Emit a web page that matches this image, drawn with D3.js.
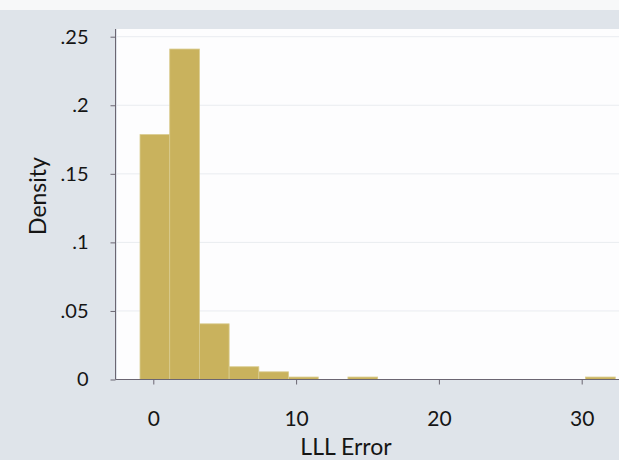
<!DOCTYPE html>
<html><head><meta charset="utf-8">
<script src="https://cdn.jsdelivr.net/npm/d3@7"></script>
<style>html,body{margin:0;padding:0;background:#fff;}svg{display:block;}</style>
</head><body>
<script>
// Data
const binStart = -0.93;          // left edge of first bin (LLL Error units)
const binWidth = 2.08;           // bin width
const densities = [0.1786, 0.241, 0.0406, 0.0093, 0.0056, 0.0018, 0, 0.0018, 0, 0, 0, 0, 0, 0, 0, 0.0018];
const xTicks = [0, 10, 20, 30];
const yTicks = [0, 0.05, 0.1, 0.15, 0.2, 0.25];
const yTickLabels = ["0", ".05", ".1", ".15", ".2", ".25"];
const xTitle = "LLL Error";
const yTitle = "Density";

const W = 619, H = 460;
const FONT = "Lato, 'Open Sans', sans-serif";
const TXT = "#151515";
const svg = d3.select("body").append("svg").attr("width", W).attr("height", H);

// backgrounds
svg.append("rect").attr("x",0).attr("y",0).attr("width",W).attr("height",H).attr("fill","#dfe4ea");
svg.append("rect").attr("x",0).attr("y",0).attr("width",W).attr("height",10).attr("fill","#f7f8f9");
const plotL = 117, plotT = 29, plotR = W, plotB = 379.5;
svg.append("rect").attr("x",plotL).attr("y",plotT).attr("width",plotR-plotL).attr("height",plotB-plotT).attr("fill","#fdfdfe");

const x = d3.scaleLinear().domain([0, 30]).range([153.3, 581.7]);
const y = d3.scaleLinear().domain([0, 0.25]).range([plotB, 36.7]);

// gridlines
svg.append("g").selectAll("line").data(yTicks.filter(d => d > 0)).join("line")
  .attr("x1", plotL).attr("x2", plotR)
  .attr("y1", d => y(d)).attr("y2", d => y(d))
  .attr("stroke", "#e9ecf0").attr("stroke-width", 1);

// bars
const bins = densities.map((d, i) => ({x0: binStart + i*binWidth, x1: binStart + (i+1)*binWidth, d}));
svg.append("g").selectAll("rect").data(bins.filter(b => b.d > 0)).join("rect")
  .attr("x", b => x(b.x0)).attr("width", b => x(b.x1) - x(b.x0))
  .attr("y", b => y(b.d)).attr("height", b => y(0) - y(b.d))
  .attr("fill", "#c9b25d").attr("stroke", "#d9cb8e").attr("stroke-width", 0.8);

// axes
const axisColor = "#6b6672";
const yAxis = svg.append("g").attr("transform", `translate(${plotL-1.5},0)`)
  .call(d3.axisLeft(y).tickValues(yTicks).tickFormat((d,i) => yTickLabels[i]).tickSize(5).tickPadding(22));
yAxis.select(".domain").attr("stroke", axisColor).attr("d", `M0,${plotT}V${plotB}`);
yAxis.selectAll(".tick line").attr("stroke", axisColor);
yAxis.selectAll("text").attr("fill",TXT).style("font-family",FONT).style("font-size","20px");

const xAxis = svg.append("g").attr("transform", `translate(0,${plotB})`)
  .call(d3.axisBottom(x).tickValues(xTicks).tickFormat(d3.format("d")).tickSize(5).tickPadding(26.5));
xAxis.select(".domain").attr("stroke", axisColor).attr("d", `M${plotL-1.5},0H${W}`);
xAxis.selectAll(".tick line").attr("stroke", axisColor);
xAxis.selectAll("text").attr("fill",TXT).style("font-family",FONT).style("font-size","21px");

// titles
svg.append("text").attr("x", 346).attr("y", 455).attr("text-anchor","middle")
  .attr("fill",TXT).style("font-family",FONT).style("font-size","23px").text(xTitle);
svg.append("text").attr("transform","translate(46,196) rotate(-90)").attr("text-anchor","middle")
  .attr("fill",TXT).style("font-family",FONT).style("font-size","23px").text(yTitle);
</script>
</body></html>
